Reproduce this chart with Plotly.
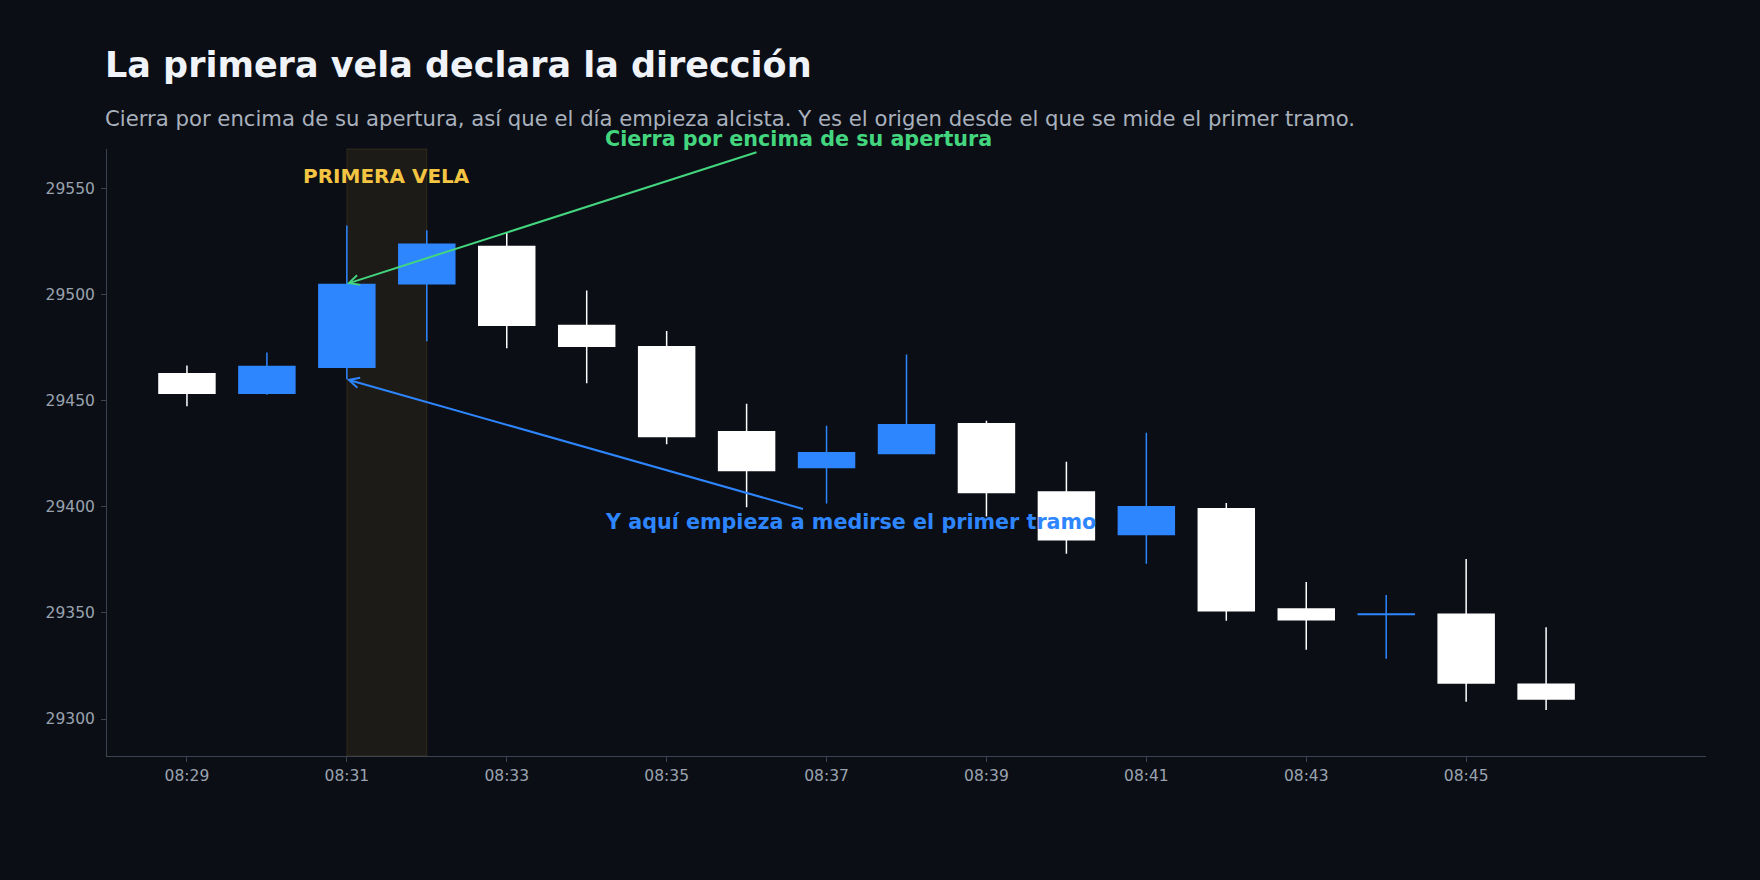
import plotly.graph_objects as go

# one-minute candles, values
day = "2024-01-02 "
times = ["08:29", "08:30", "08:31", "08:32", "08:33", "08:34", "08:35", "08:36", "08:37",
         "08:38", "08:39", "08:40", "08:41", "08:42", "08:43", "08:44", "08:45", "08:46"]
opens = [29462.7, 29453.5, 29465.7, 29505.0, 29522.6, 29485.4, 29475.4, 29435.3, 29418.5,
         29425.1, 29439.1, 29407.0, 29386.9, 29399.0, 29351.8, 29349.2, 29349.4, 29316.4]
highs = [29466.5, 29472.6, 29532.5, 29530.2, 29529.0, 29501.9, 29482.8, 29448.5, 29438.2,
         29471.7, 29440.5, 29421.2, 29434.9, 29401.8, 29364.6, 29358.4, 29375.4, 29343.3]
lows = [29447.3, 29452.8, 29460.1, 29478.0, 29474.7, 29458.2, 29429.4, 29399.8, 29401.5,
        29425.1, 29395.4, 29377.9, 29373.2, 29346.3, 29332.6, 29328.4, 29308.1, 29304.3]
closes = [29453.5, 29466.0, 29504.7, 29523.6, 29485.5, 29475.6, 29433.1, 29417.1, 29425.4,
          29438.6, 29406.7, 29384.5, 29400.0, 29351.0, 29346.8, 29349.5, 29317.0, 29309.5]

x_ticks = ["08:29", "08:31", "08:33", "08:35", "08:37", "08:39", "08:41", "08:43", "08:45"]
y_ticks = [29300, 29350, 29400, 29450, 29500, 29550]

BG = "#0b0e15"
BLUE = "#2e86ff"
GREEN = "#43d67f"
GOLD = "#f4c542"
AXIS = "#3b4252"

x = [day + t for t in times]

fig = go.Figure()
fig.add_trace(
    go.Candlestick(
        x=x,
        open=opens,
        high=highs,
        low=lows,
        close=closes,
        increasing=dict(fillcolor=BLUE, line=dict(color=BLUE, width=1.5)),
        decreasing=dict(fillcolor="#ffffff", line=dict(color="#ffffff", width=1.5)),
        showlegend=False,
        hoverinfo="skip",
    )
)

# highlight of the first candle
fig.add_shape(
    type="rect",
    xref="x", yref="paper",
    x0=day + "08:31", x1=day + "08:32", y0=0, y1=1,
    fillcolor="rgba(245,194,66,0.08)",
    line=dict(color="rgba(245,194,66,0.12)", width=1),
    layer="below",
)

fig.add_annotation(
    x=day + "08:31:30", y=29555.8, text="<b>PRIMERA VELA</b>",
    showarrow=False, font=dict(color=GOLD, size=20),
)
fig.add_annotation(
    x=day + "08:31", y=29505,
    ax=day + "08:36:39", ay=29573.3, axref="x", ayref="y",
    text="<b>Cierra por encima de su apertura</b>",
    font=dict(color=GREEN, size=20.7),
    showarrow=True, arrowhead=5, arrowsize=1, arrowwidth=2, arrowcolor=GREEN,
)
fig.add_annotation(
    x=day + "08:31", y=29460,
    ax=day + "08:37:18", ay=29392.6, axref="x", ayref="y",
    text="<b>Y aquí empieza a medirse el primer tramo</b>",
    font=dict(color=BLUE, size=20.7),
    showarrow=True, arrowhead=5, arrowsize=1, arrowwidth=2, arrowcolor=BLUE,
)

# title + subtitle
fig.add_annotation(
    xref="paper", yref="paper", x=0, y=1.138, xanchor="left", yanchor="middle",
    xshift=-4,
    text="<b>La primera vela declara la dirección</b>", showarrow=False,
    font=dict(color="#f0f3f8", size=35),
)
fig.add_annotation(
    xref="paper", yref="paper", x=0, y=1.051, xanchor="left", yanchor="middle",
    xshift=-4,
    text="Cierra por encima de su apertura, así que el día empieza alcista. "
         "Y es el origen desde el que se mide el primer tramo.",
    showarrow=False, font=dict(color="#a9b1bd", size=21.2),
)

fig.update_layout(
    width=1760, height=880,
    paper_bgcolor=BG, plot_bgcolor=BG,
    margin=dict(l=107, r=54, t=149, b=124),
    font=dict(family="DejaVu Sans", color="#9aa3af", size=15.5),
    boxgap=0.3, boxgroupgap=0,
    xaxis=dict(
        type="date",
        range=[day + "08:28", day + "08:48"],
        tickvals=[day + t for t in x_ticks], ticktext=x_ticks,
        showgrid=False, zeroline=False,
        showline=True, linecolor=AXIS, linewidth=1,
        ticks="outside", ticklen=5, tickcolor=AXIS,
        rangeslider=dict(visible=False),
    ),
    yaxis=dict(
        range=[29282.6, 29568.5],
        tickvals=y_ticks, tickformat="d",
        showgrid=False, zeroline=False,
        showline=True, linecolor=AXIS, linewidth=1,
        ticks="outside", ticklen=5, tickcolor=AXIS,
        ticklabelstandoff=3,
    ),
)

# drop the page margin so the dark figure fills the window
fig.write_html(
    "out.html",
    config={"displayModeBar": False},
    post_script="document.body.style.margin='0';document.body.style.background='" + BG + "';",
)
